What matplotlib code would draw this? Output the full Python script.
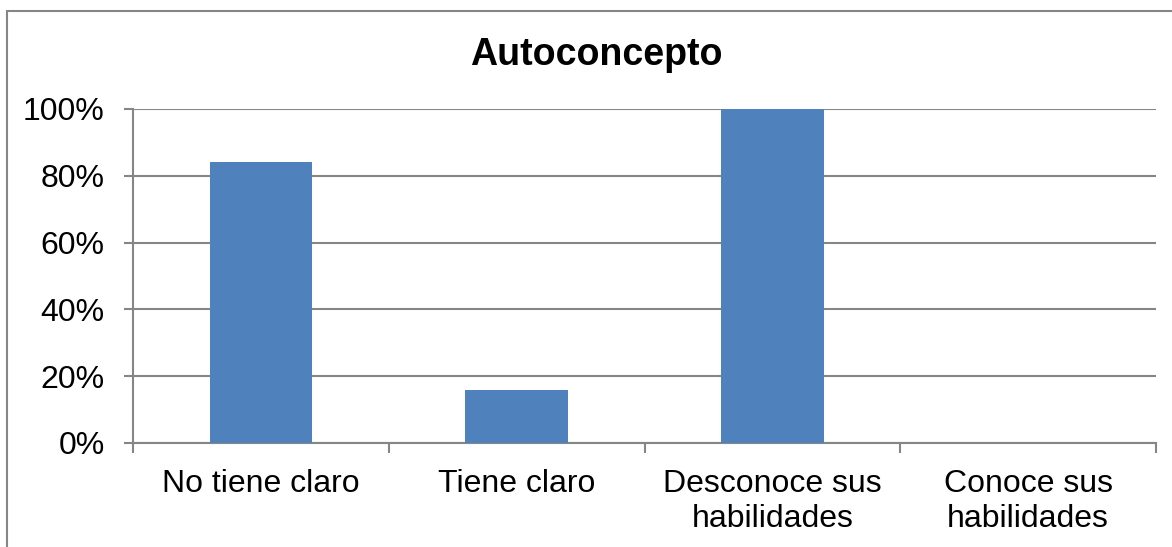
import matplotlib
matplotlib.use("Agg")
import matplotlib.pyplot as plt
from matplotlib.patches import Rectangle

categories = ["No tiene claro", "Tiene claro", "Desconoce sus\nhabilidades", "Conoce sus\nhabilidades"]
values = [0.84, 0.16, 1.00, 0.0]
yticks = [0, 0.2, 0.4, 0.6, 0.8, 1.0]
ytick_labels = ["0%", "20%", "40%", "60%", "80%", "100%"]
title = "Autoconcepto"

plt.rcParams['font.family'] = ['Liberation Sans', 'DejaVu Sans']

W, H = 1172, 547
fig = plt.figure(figsize=(W / 100, H / 100), dpi=100)
ax = fig.add_axes([133 / W, 1 - 443 / H, (1156 - 133) / W, (443 - 109) / H])

grid_c = "#868686"
x = range(len(categories))
ax.bar(x, values, width=0.4, color="#4F81BD", zorder=3)
ax.set_xlim(-0.5, len(categories) - 0.5)
ax.set_ylim(0, 1.0)
ax.set_yticks(yticks)
ax.set_yticklabels(ytick_labels, fontsize=23)
ax.set_xticks([i + 0.5 for i in range(-1, len(categories))], minor=False)
ax.set_xticklabels([])
ax.set_xticks(list(x), minor=True)
ax.set_xticklabels(categories, minor=True, fontsize=23, linespacing=1.22)
ax.tick_params(axis='x', which='minor', length=0, pad=19)
ax.tick_params(axis='x', which='major', length=7, width=1.5, color=grid_c)
ax.tick_params(axis='y', length=6.5, width=1.5, color=grid_c, pad=14)
ax.grid(axis='y', color=grid_c, linewidth=1.5, zorder=0)
for s in ['top', 'right']:
    ax.spines[s].set_visible(False)
for s in ['left', 'bottom']:
    ax.spines[s].set_color(grid_c)
    ax.spines[s].set_linewidth(1.5)

fig.text(596 / W, 1 - 55 / H, title, ha='center', va='center', fontsize=27, fontweight='bold')

fig.patches.append(Rectangle((7 / W, -0.05), 1.1, 1 - 11 / H + 0.05, transform=fig.transFigure,
                             fill=False, edgecolor=grid_c, linewidth=1.5))

fig.savefig("out.png", dpi=100)
